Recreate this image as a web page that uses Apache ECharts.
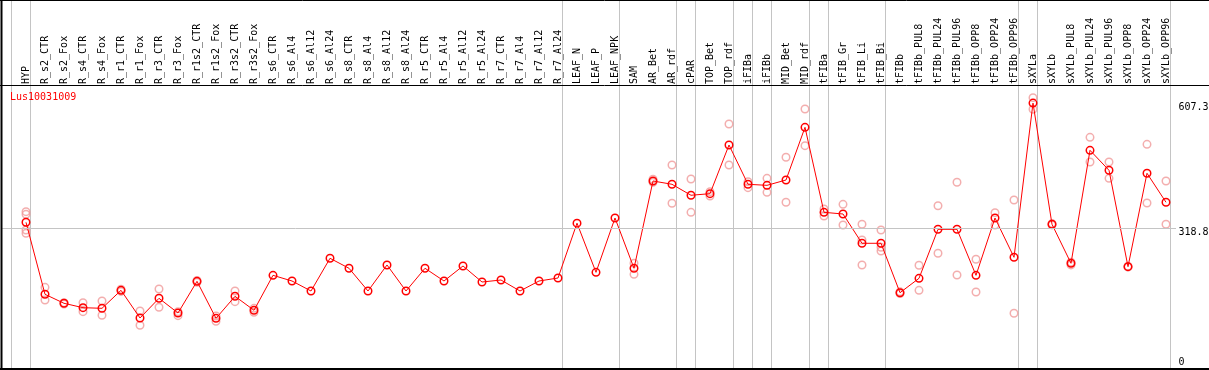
<!DOCTYPE html>
<html><head><meta charset="utf-8">
<script src="https://cdn.jsdelivr.net/npm/echarts@6/dist/echarts.min.js"></script>
<style>html,body{margin:0;padding:0;background:#fff;} #c{width:1209px;height:370px;}</style>
</head><body><div id="c"></div>
<script>
// ---------- data ----------
const geneId = 'Lus10031009';
const categories = ['HYP','R_s2_CTR','R_s2_Fox','R_s4_CTR','R_s4_Fox','R_r1_CTR','R_r1_Fox','R_r3_CTR','R_r3_Fox',
  'R_r1s2_CTR','R_r1s2_Fox','R_r3s2_CTR','R_r3s2_Fox','R_s6_CTR','R_s6_Al4','R_s6_Al12','R_s6_Al24',
  'R_s8_CTR','R_s8_Al4','R_s8_Al12','R_s8_Al24','R_r5_CTR','R_r5_Al4','R_r5_Al12','R_r5_Al24',
  'R_r7_CTR','R_r7_Al4','R_r7_Al12','R_r7_Al24','LEAF_N','LEAF_P','LEAF_NPK','SAM','AR_Bet','AR_rdf',
  'cPAR','TOP_Bet','TOP_rdf','iFIBa','iFIBb','MID_Bet','MID_rdf','tFIBa','tFIB_Gr','tFIB_Li','tFIB_Bi',
  'tFIBb','tFIBb_PUL8','tFIBb_PUL24','tFIBb_PUL96','tFIBb_OPP8','tFIBb_OPP24','tFIBb_OPP96',
  'sXYLa','sXYLb','sXYLb_PUL8','sXYLb_PUL24','sXYLb_PUL96','sXYLb_OPP8','sXYLb_OPP24','sXYLb_OPP96'];
const means = [333.0,167.3,146.6,136.5,135.1,176.5,112.8,158.1,124.3,
  197.2,112.0,162.7,130.5,211.0,197.9,174.9,250.2,
  227.2,174.9,234.8,174.9,227.2,197.9,232.5,195.6,
  200.2,174.9,197.9,204.8,331.0,217.9,342.9,227.2,428.1,420.5,
  395.2,398.9,510.9,420.5,418.1,430.4,551.6,356.0,352.1,284.7,284.7,
  171.0,204.1,316.9,316.9,211.0,342.9,252.5,
  607.3,328.4,238.7,498.7,452.7,230.9,445.8,379.1];
const replicates = [
  ['HYP',[357.5,351.4,315.3,307.7]],
  ['R_s2_CTR',[183.4,154.2]], ['R_s2_Fox',[148,145]], ['R_s4_CTR',[148.0,127.3]], ['R_s4_Fox',[151.9,119.0]],
  ['R_r1_CTR',[179,174]], ['R_r1_Fox',[128.9,96.0]], ['R_r3_CTR',[179.5,137.4]], ['R_r3_Fox',[127.3,118.1]],
  ['R_r1s2_CTR',[199,195]], ['R_r1s2_Fox',[117.4,105.2]], ['R_r3s2_CTR',[174.9,150.3]], ['R_r3s2_Fox',[135,126]],
  ['SAM',[238.7,213.3]], ['AR_Bet',[432,425]], ['AR_rdf',[464.9,376.8]], ['cPAR',[432.7,356.0]],
  ['TOP_Bet',[403.5,393.6]], ['TOP_rdf',[559.3,464.9]], ['iFIBa',[426.5,412.7]], ['iFIBb',[434.2,402.0]],
  ['MID_Bet',[482.6,379.1]], ['MID_rdf',[593.8,509.4]], ['tFIBa',[363.6,347.5]], ['tFIB_Gr',[374.4,326.8]],
  ['tFIB_Li',[328.4,292.3,234.8]], ['tFIB_Bi',[315.3,275.5,267.0]], ['tFIBb',[173,169]],
  ['tFIBb_PUL8',[234.1,176.5]], ['tFIBb_PUL24',[371.2,261.7]], ['tFIBb_PUL96',[425.1,211.7]],
  ['tFIBb_OPP8',[247.9,172.6]], ['tFIBb_OPP24',[355.2,326.8]], ['tFIBb_OPP96',[384.3,123.6]],
  ['sXYLa',[619.8,593.1]], ['sXYLb',[330,327]], ['sXYLb_PUL8',[241,235]], ['sXYLb_PUL24',[528.6,471.8]],
  ['sXYLb_PUL96',[471.8,434.2]], ['sXYLb_OPP8',[232,230]], ['sXYLb_OPP24',[512.5,377.4]], ['sXYLb_OPP96',[428.1,328.4]]
];
// index of the last category of each group (-1 = before the first)
const groupEnds = [-1,0,28,31,34,35,37,38,39,41,42,45,52,53,60];
const yTicks = [0, 318.8, 607.3];
const refLine = 318.8;

// ---------- layout ----------
const W = 1209, H = 370;
const X0 = 26, STEP = 19;           // pixel centre of first category, spacing
const PLOT_TOP = 86, ZERO_Y = 367, Y_MAX = 646.7;
const FULL_LEFT = 2, FULL_RIGHT = 1176, FRAME_BOTTOM = 369;
const SEP_OFFSET = 0.226;
const FONT = 'DejaVu Sans Mono';
const GRID_GRAY = '#c4c4c4';
const n = categories.length;
const ppu = (ZERO_Y - PLOT_TOP) / Y_MAX;

const repData = [];
replicates.forEach(([c, vals]) => vals.forEach(v => repData.push([c, v])));

const frame = [
  {type: 'line', z: 100, shape: {x1: 1.5, y1: 0, x2: 1.5, y2: H}, style: {stroke: '#000', lineWidth: 2}},
  {type: 'line', z: 100, shape: {x1: 0, y1: 0.5, x2: W, y2: 0.5}, style: {stroke: '#000', lineWidth: 1}},
  {type: 'line', z: 100, shape: {x1: 0, y1: 85.5, x2: W, y2: 85.5}, style: {stroke: '#000', lineWidth: 1}},
  {type: 'line', z: 100, shape: {x1: 0, y1: 369, x2: W, y2: 369}, style: {stroke: '#000', lineWidth: 2}}
];

const chart = echarts.init(document.getElementById('c'), null, {renderer: 'canvas'});
chart.setOption({
  animation: false,
  backgroundColor: '#fff',
  title: {
    text: geneId, left: 10, top: 92, padding: 0,
    textStyle: {color: '#ff0000', fontSize: 10, fontWeight: 'normal', fontFamily: FONT}
  },
  grid: [
    {left: X0 - STEP / 2, right: W - (X0 + STEP * (n - 1) + STEP / 2), top: PLOT_TOP, bottom: H - ZERO_Y,
     outerBoundsMode: 'none', containLabel: false},
    {left: FULL_LEFT, right: W - FULL_RIGHT, top: 0, bottom: H - FRAME_BOTTOM,
     outerBoundsMode: 'none', containLabel: false}
  ],
  xAxis: [
    {
      type: 'category', gridIndex: 0, data: categories, position: 'top', boundaryGap: true,
      axisLine: {show: false}, axisTick: {show: false}, splitLine: {show: false},
      axisLabel: {rotate: 90, interval: 0, margin: 2, fontSize: 10, fontFamily: FONT, color: '#000'}
    },
    {
      type: 'value', gridIndex: 1, show: false,
      min: (FULL_LEFT - X0) / STEP, max: (FULL_RIGHT - X0) / STEP
    }
  ],
  yAxis: [
    {
      type: 'value', gridIndex: 0, position: 'right', min: 0, max: Y_MAX,
      axisLine: {show: false}, axisTick: {show: false}, splitLine: {show: false},
      axisLabel: {
        customValues: yTicks, margin: 3, fontSize: 10, fontFamily: FONT, color: '#000', align: 'left',
        formatter: v => v === 0 ? '{b|0}' : '{a|' + v + '}',
        rich: {
          a: {fontSize: 10, fontFamily: FONT, color: '#000', padding: [8, 0, 0, 0]},
          b: {fontSize: 10, fontFamily: FONT, color: '#000', padding: [0, 0, 10, 0]}
        }
      }
    },
    {
      type: 'value', gridIndex: 1, show: false,
      min: -(FRAME_BOTTOM - ZERO_Y) / ppu, max: ZERO_Y / ppu
    }
  ],
  series: [
    {
      type: 'line', xAxisIndex: 1, yAxisIndex: 1, data: [], silent: true, z: 1,
      markLine: {
        silent: true, symbol: 'none', animation: false,
        label: {show: false},
        lineStyle: {color: GRID_GRAY, type: 'solid', width: 1},
        emphasis: {disabled: true},
        data: [{yAxis: refLine}]
      }
    },
    {
      type: 'scatter', xAxisIndex: 0, yAxisIndex: 0, data: repData, z: 3,
      symbol: 'circle', symbolSize: 7.5,
      itemStyle: {color: 'rgba(0,0,0,0)', borderColor: '#f09a9a', borderWidth: 1.5}
    },
    {
      type: 'line', xAxisIndex: 0, yAxisIndex: 0, data: means, z: 4,
      symbol: 'circle', symbolSize: 7.5, showAllSymbol: true,
      lineStyle: {color: '#ff0000', width: 1},
      itemStyle: {color: 'rgba(0,0,0,0)', borderColor: '#ff0000', borderWidth: 1.5}
    }
  ],
  graphic: frame
});

// group separators: positions converted through the hidden value x-axis of grid 1
const seps = groupEnds.map(g => {
  const px = chart.convertToPixel({xAxisIndex: 1}, g + SEP_OFFSET);
  const x = Math.round(px) + 0.5;
  return {type: 'line', z: 2, silent: true, shape: {x1: x, y1: 0, x2: x, y2: H},
          style: {stroke: GRID_GRAY, lineWidth: 1}};
});
chart.setOption({graphic: seps.concat(frame)}, {replaceMerge: ['graphic']});
</script></body></html>
